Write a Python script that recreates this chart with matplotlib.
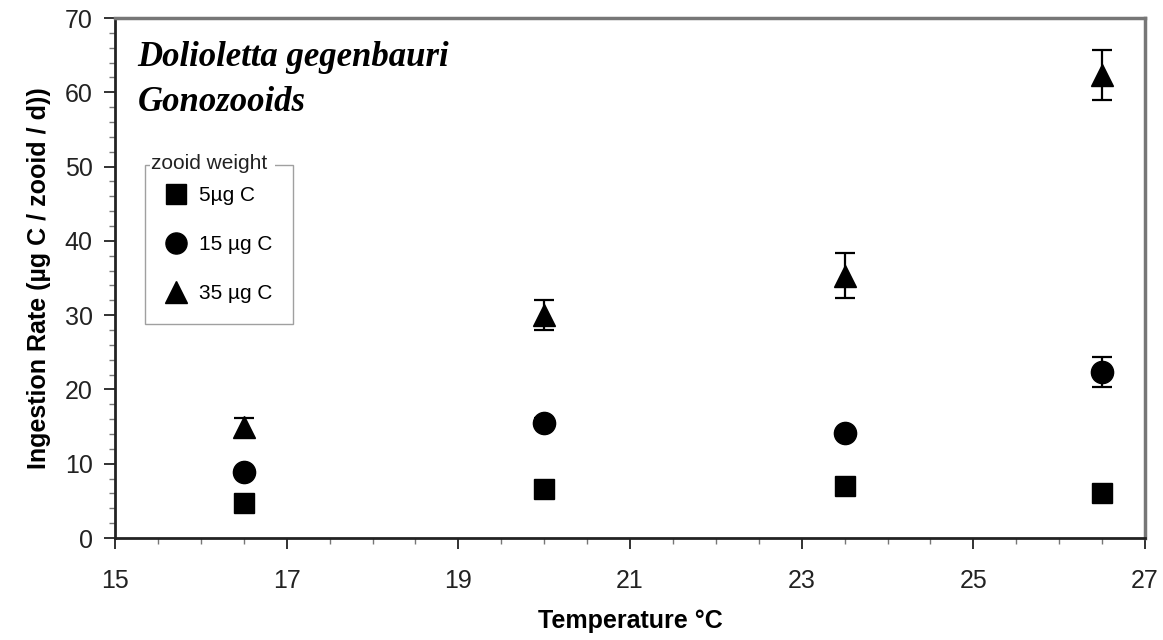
import numpy as np
import matplotlib
matplotlib.use('Agg')
import matplotlib.pyplot as plt
from matplotlib.ticker import MultipleLocator
from matplotlib.lines import Line2D

temps = [16.5, 20.0, 23.5, 26.5]

w5 = [4.7, 6.6, 7.0, 6.1]
w5_err = [0.3, 0.3, 0.3, 0.3]
w15 = [8.9, 15.5, 14.1, 22.3]
w15_err = [0.5, 0.6, 0.6, 2.0]
w35 = [14.9, 30.0, 35.3, 62.3]
w35_err = [1.3, 2.0, 3.0, 3.4]

labels = ['5µg C', '15 µg C', '35 µg C']
xticks = [15, 17, 19, 21, 23, 25, 27]

plt.rcParams['font.family'] = ['Liberation Sans', 'DejaVu Sans']

fig = plt.figure(figsize=(11.63, 6.40), dpi=100)
ax = fig.add_axes([115/1163, 1 - 538/640, 1030/1163, 520/640])

series = [(w5, w5_err, 's', 15), (w15, w15_err, 'o', 16), (w35, w35_err, '^', 16)]
handles = []
for (vals, errs, mk, ms), lab in zip(series, labels):
    ax.errorbar(temps, vals, yerr=errs, fmt=mk, color='black', markersize=ms,
                ecolor='black', elinewidth=1.6, capsize=7, capthick=1.6)
    handles.append(Line2D([], [], linestyle='none', marker=mk, color='black',
                          markersize=ms * 0.95, label=lab))

ax.set_xlim(15, 27)
ax.set_ylim(0, 70)
ax.set_xticks(xticks)
ax.xaxis.set_minor_locator(MultipleLocator(0.5))
ax.yaxis.set_major_locator(MultipleLocator(10))
ax.yaxis.set_minor_locator(MultipleLocator(2))
ax.tick_params(which='major', direction='out', length=8, width=1.3, labelsize=18, colors='#222222')
ax.tick_params(axis='x', which='major', pad=14)
ax.tick_params(axis='y', which='major', pad=8)
ax.tick_params(which='minor', direction='out', length=4, width=1.0, color='#777777')

for s in ['left', 'bottom']:
    ax.spines[s].set_linewidth(2)
    ax.spines[s].set_color('#222222')
for s in ['top', 'right']:
    ax.spines[s].set_linewidth(2.5)
    ax.spines[s].set_color('#777777')

ax.set_xlabel('Temperature °C', fontsize=18, fontweight='bold', labelpad=12)
ax.set_ylabel('Ingestion Rate (µg C / zooid / d))', fontsize=18, fontweight='bold', labelpad=10)

ax.text(0.022, 0.955, 'Dolioletta gegenbauri\nGonozooids', transform=ax.transAxes,
        family=['Liberation Serif', 'DejaVu Serif'], fontsize=25, fontweight='bold',
        style='italic', va='top', ha='left', linespacing=1.45)

leg = ax.legend(handles=handles, loc='upper left', bbox_to_anchor=(0.029, 0.717), frameon=True,
                fancybox=False, edgecolor='#888888', fontsize=15, handletextpad=0.6,
                labelspacing=1.45, borderpad=1.0, handlelength=1.0, borderaxespad=0)
leg.get_frame().set_linewidth(1.0)
ax.text(0.035, 0.72, 'zooid weight ', transform=ax.transAxes, fontsize=15,
        va='center', ha='left', color='#222222', zorder=10,
        bbox=dict(facecolor='white', edgecolor='none', pad=1))

fig.savefig('out.png', dpi=100)
